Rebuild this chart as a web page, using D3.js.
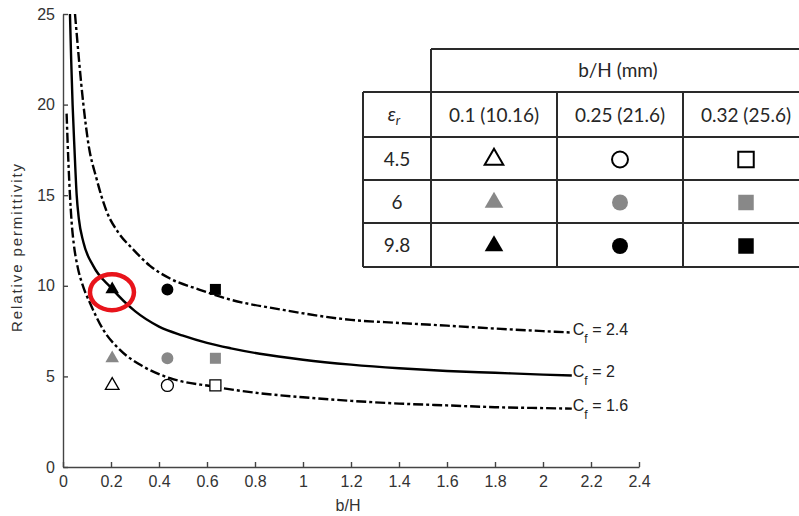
<!DOCTYPE html>
<html>
<head>
<meta charset="utf-8">
<script src="https://cdn.jsdelivr.net/npm/d3@7"></script>
<style>
  body { margin: 0; background: #fff; }
  svg { display: block; }
  .axis text { font-family: "Liberation Sans", Arial, sans-serif; font-size: 16px; fill: #333; }
  .axis path, .axis line { stroke: #444; stroke-width: 1.4; }
  .tbl text { font-family: Lato, "Noto Sans", sans-serif; font-size: 19px; fill: #262626; }
</style>
</head>
<body>
<div id="chart"></div>
<script>
// tick values
var xTicks = [0, 0.2, 0.4, 0.6, 0.8, 1, 1.2, 1.4, 1.6, 1.8, 2, 2.2, 2.4];
var yTicks = [0, 5, 10, 15, 20, 25];

// curves [b/H, relative permittivity]
var cf24 = [[0.05,25],[0.085,20],[0.105,17.9],[0.14,15.9],[0.182,14.1],[0.23,12.95],[0.293,12.0],
            [0.3625,11.1],[0.446,10.4],[0.57,9.78],[0.68,9.3],[0.917,8.67],[1.2,8.12],[1.4,7.95],
            [1.6,7.8],[1.8,7.64],[2.0,7.5],[2.12,7.42]];
var cf20 = [[0.029,25],[0.034,22.5],[0.04,20],[0.048,17.5],[0.057,15],[0.066,13.7],[0.085,12.4],
            [0.126,11.1],[0.2,9.9],[0.3,8.6],[0.4,7.75],[0.5,7.25],[0.6,6.85],[0.7,6.55],[0.82,6.25],
            [1.0,5.92],[1.2,5.65],[1.4,5.45],[1.6,5.3],[1.8,5.2],[2.0,5.1],[2.12,5.05]];
var cf16 = [[0.015,19.5],[0.022,17],[0.029,15],[0.036,13.5],[0.045,12.3],[0.06,11.1],[0.083,10.0],
            [0.1125,9.05],[0.168,7.57],[0.2375,6.46],[0.335,5.54],[0.446,4.9],[0.62,4.45],[0.82,4.07],
            [1.0,3.85],[1.2,3.65],[1.4,3.5],[1.6,3.4],[1.8,3.3],[2.0,3.25],[2.12,3.22]];
var curveLabels = ["2.4", "2", "1.6"];

// measured points
var pointX = [0.205, 0.435, 0.635];          // triangle, circle, square
var pointY = [4.5, 6, 9.8];                   // open, grey, black
var shapes = ["triangle", "circle", "square"];

// table texts
var colHeaders = ["0.1 (10.16)", "0.25 (21.6)", "0.32 (25.6)"];
var rowLabels = ["4.5", "6", "9.8"];
var groupHeader = "b/H (mm)";

var svgWidth = 799;
var svgHeight = 516;

var svg = d3.select("#chart")
    .append("svg")
    .attr("width", svgWidth)
    .attr("height", svgHeight);

var x = d3.scaleLinear().domain([0, 2.4]).range([63, 639]);
var y = d3.scaleLinear().domain([0, 25]).range([467, 14]);

// axes with inward ticks
svg.append("g")
    .attr("class", "axis")
    .attr("transform", "translate(63,0)")
    .call(d3.axisLeft(y).tickValues(yTicks).tickFormat(d3.format("~g"))
        .tickSizeInner(-5).tickSizeOuter(0).tickPadding(8));

svg.append("g")
    .attr("class", "axis")
    .attr("transform", "translate(0,467)")
    .call(d3.axisBottom(x).tickValues(xTicks).tickFormat(d3.format("~g"))
        .tickSizeInner(-5).tickSizeOuter(0).tickPadding(9));

svg.append("text")
    .attr("x", 348).attr("y", 511)
    .attr("text-anchor", "middle")
    .style("font-family", "Liberation Sans, Arial, sans-serif")
    .style("font-size", "16px").style("fill", "#333")
    .text("b/H");

svg.append("text")
    .attr("transform", "translate(22,248) rotate(-90)")
    .attr("text-anchor", "middle")
    .attr("textLength", 168)
    .attr("lengthAdjust", "spacing")
    .style("font-family", "Liberation Sans, Arial, sans-serif")
    .style("font-size", "15px").style("fill", "#333")
    .text("Relative permittivity");

// curves
var line = d3.line()
    .x(d => x(d[0]))
    .y(d => y(d[1]))
    .curve(d3.curveMonotoneX);

var curves = [
    { data: cf24, dash: "10,3,3,3" },
    { data: cf20, dash: null },
    { data: cf16, dash: "10,3,3,3" }
];

curves.forEach(function (c, i) {
    svg.append("path")
        .datum(c.data)
        .attr("d", line)
        .attr("fill", "none")
        .attr("stroke", "#000")
        .attr("stroke-width", 2.4)
        .attr("stroke-dasharray", c.dash);

    var last = c.data[c.data.length - 1];
    var lbl = svg.append("text")
        .attr("x", x(last[0]) + 1)
        .attr("y", y(last[1]) + 2)
        .style("font-family", "Liberation Sans, Arial, sans-serif")
        .style("font-size", "16px").style("fill", "#222");
    lbl.append("tspan").text("C");
    lbl.append("tspan").attr("dy", 8).style("font-size", "12px").text("f");
    lbl.append("tspan").attr("dy", -8).text(" = " + curveLabels[i]);
});

// markers
var symbolType = { triangle: d3.symbolTriangle, circle: d3.symbolCircle, square: d3.symbolSquare };
var rowFill = ["#fff", "#888", "#000"];
var rowStroke = ["#000", "#888", "#000"];

function drawMarker(g, shape, row, cx, cy, big) {
    var sizes = big ? { triangle: 150, circle: 200, square: 240 } : { triangle: 80, circle: 113, square: 121 };
    g.append("path")
        .attr("d", d3.symbol().type(symbolType[shape]).size(sizes[shape])())
        .attr("transform", "translate(" + cx + "," + cy + ")")
        .attr("fill", rowFill[row])
        .attr("stroke", rowStroke[row])
        .attr("stroke-width", row === 0 ? (big ? 2 : 1.3) : 0);
}

pointY.forEach(function (py, r) {
    pointX.forEach(function (px, c) {
        drawMarker(svg, shapes[c], r, x(px), y(py), false);
    });
});

// red highlight ring
svg.append("ellipse")
    .attr("cx", x(0.204)).attr("cy", y(9.65))
    .attr("rx", 22).attr("ry", 18)
    .attr("fill", "none")
    .attr("stroke", "#e8141b")
    .attr("stroke-width", 4.5);

// table
var tbl = svg.append("g").attr("class", "tbl");
var colEdges = [363, 431, 557, 683, 809];
var rowEdges = [49, 92, 137, 180, 223, 267];

tbl.append("rect")
    .attr("x", colEdges[1]).attr("y", rowEdges[0])
    .attr("width", colEdges[4] - colEdges[1]).attr("height", rowEdges[5] - rowEdges[0])
    .attr("fill", "#fff");
tbl.append("rect")
    .attr("x", colEdges[0]).attr("y", rowEdges[1])
    .attr("width", colEdges[1] - colEdges[0]).attr("height", rowEdges[5] - rowEdges[1])
    .attr("fill", "#fff");

function hline(x1, x2, yy) {
    tbl.append("line").attr("x1", x1).attr("x2", x2).attr("y1", yy).attr("y2", yy)
        .attr("stroke", "#2a2a2a").attr("stroke-width", 2);
}
function vline(xx, y1, y2) {
    tbl.append("line").attr("x1", xx).attr("x2", xx).attr("y1", y1).attr("y2", y2)
        .attr("stroke", "#2a2a2a").attr("stroke-width", 2);
}
hline(colEdges[1], colEdges[4], rowEdges[0]);
for (var i = 1; i < rowEdges.length; i++) hline(colEdges[0], colEdges[4], rowEdges[i]);
vline(colEdges[0], rowEdges[1], rowEdges[5]);
vline(colEdges[1], rowEdges[0], rowEdges[5]);
vline(colEdges[2], rowEdges[1], rowEdges[5]);
vline(colEdges[3], rowEdges[1], rowEdges[5]);

function mid(a, i) { return (a[i] + a[i + 1]) / 2; }

tbl.append("text")
    .attr("x", (colEdges[1] + colEdges[4]) / 2 - 2).attr("y", mid(rowEdges, 0) + 6)
    .attr("text-anchor", "middle")
    .text(groupHeader);

var eps = tbl.append("text")
    .attr("x", mid(colEdges, 0) - 3).attr("y", mid(rowEdges, 1) + 6)
    .attr("text-anchor", "middle");
eps.append("tspan").style("font-style", "italic").text("ε");
eps.append("tspan").attr("dy", 4).style("font-size", "13px").style("font-style", "italic").text("r");

colHeaders.forEach(function (h, c) {
    tbl.append("text")
        .attr("x", mid(colEdges, c + 1)).attr("y", mid(rowEdges, 1) + 7)
        .attr("text-anchor", "middle")
        .text(h);
});

rowLabels.forEach(function (lab, r) {
    tbl.append("text")
        .attr("x", mid(colEdges, 0)).attr("y", mid(rowEdges, r + 2) + 7)
        .attr("text-anchor", "middle")
        .text(lab);
    shapes.forEach(function (s, c) {
        drawMarker(tbl, s, r, mid(colEdges, c + 1), mid(rowEdges, r + 2) + 1, true);
    });
});
</script>
</body>
</html>
